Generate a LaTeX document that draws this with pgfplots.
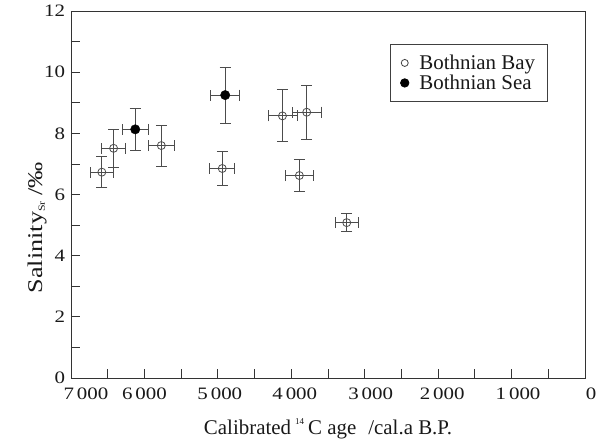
\documentclass[border=0pt]{standalone}
\usepackage{fontspec}
\setmainfont{Liberation Serif}
\newfontfamily\ylabfont[FakeStretch=1.25]{Liberation Serif}
\newfontfamily\tickfont[FakeStretch=1.2]{Liberation Serif}
\usepackage{pgfplots}
\usepackage{pgfplotstable}
\pgfplotsset{compat=1.18}
\pgfplotstableread{
x y ex ey
6580 6.73 160 0.51
6420 7.51 160 0.62
5770 7.60 175 0.67
4940 6.85 172 0.55
4120 8.57 198 0.85
3790 8.69 195 0.88
3890 6.62 195 0.52
3245 5.08 153 0.30
}\bay
\pgfplotstableread{
x y ex ey
6125 8.13 181 0.69
4900 9.25 200 0.91
}\sea
\begin{document}
\begin{tikzpicture}[x=1bp,y=1bp]
\useasboundingbox (-71,-64) rectangle (537,378);
\begin{axis}[
  at={(0,0)}, anchor=south west,
  scale only axis, width=514bp, height=367bp,
  xmin=0, xmax=7000, x dir=reverse,
  ymin=0, ymax=12,
  axis line style={draw=black!80, line width=0.9bp},
  tick pos=left, tick align=inside,
  xtick={0,1000,...,7000},
  minor xtick={500,1500,...,6500},
  xticklabels={\hspace{12bp}0, \hspace{13bp}1\,000, \hspace{8bp}2\,000, \hspace{12bp}3\,000, \hspace{7bp}4\,000, \hspace{4bp}5\,000, 6\,000, \hspace{30bp}7\,000},
  ytick={0,2,...,12}, minor ytick={1,3,...,11},
  major tick length=9bp, minor tick length=9bp,
  every tick/.style={draw=black!80, line width=0.8bp},
  /pgf/number format/assume math mode=true,
  tick label style={font=\tickfont\fontsize{17.5}{21}\selectfont, text=black!90},
  xticklabel style={yshift=-6bp},
  yticklabel style={xshift=-2.5bp},
  xlabel={Calibrated\hspace{4bp}\raisebox{1.1ex}{\fontsize{9}{9}\selectfont 14}\hspace{4bp}C age\hspace{12bp}/cal.a B.P.},
  xlabel style={at={(axis description cs:0.5,0)}, anchor=center, yshift=-51bp, font=\fontsize{21}{25}\selectfont, text=black!90},
  ylabel={Salinity\raisebox{-0.3ex}{\fontsize{9.5}{9.5}\selectfont Sr}\hspace{6bp}/‰},
  ylabel style={at={(axis description cs:-0.066,0.41)}, anchor=center, font=\ylabfont\fontsize{21}{25}\selectfont, text=black!90},
  legend style={at={(0.928,0.910)}, anchor=north east, draw=black!75, line width=0.8bp, fill=white,
    inner xsep=10.5bp, inner ysep=8.5bp, row sep=0bp, column sep=8.5bp,
    nodes={inner sep=2bp, text depth=0.15em}, font=\fontsize{21}{25}\selectfont, text=black!90},
  legend cell align=left,
  legend image code/.code={\draw[#1] plot coordinates {(0bp,0bp)};},
]
\addlegendimage{only marks, mark=o, mark size=3.5bp, draw=black!75, mark options={line width=0.8bp}}
\addlegendentry{Bothnian Bay}
\addlegendimage{only marks, mark=*, mark size=4.2bp, draw=black, fill=black}
\addlegendentry{Bothnian Sea}
\addplot[only marks, mark=o, mark size=4bp, draw=black!70, mark options={line width=0.8bp}, forget plot,
  error bars/.cd, x dir=both, x explicit, y dir=both, y explicit,
  error bar style={draw=black!70, line width=0.8bp},
  error mark options={rotate=90, draw=black!70, line width=0.8bp, mark size=5.5bp}]
  table[x=x, y=y, x error=ex, y error=ey]{\bay};
\addplot[only marks, mark=*, mark size=4.7bp, draw=black, fill=black, forget plot,
  error bars/.cd, x dir=both, x explicit, y dir=both, y explicit,
  error bar style={draw=black!70, line width=0.8bp},
  error mark options={rotate=90, draw=black!70, line width=0.8bp, mark size=5.5bp}]
  table[x=x, y=y, x error=ex, y error=ey]{\sea};
\end{axis}
\end{tikzpicture}
\end{document}
